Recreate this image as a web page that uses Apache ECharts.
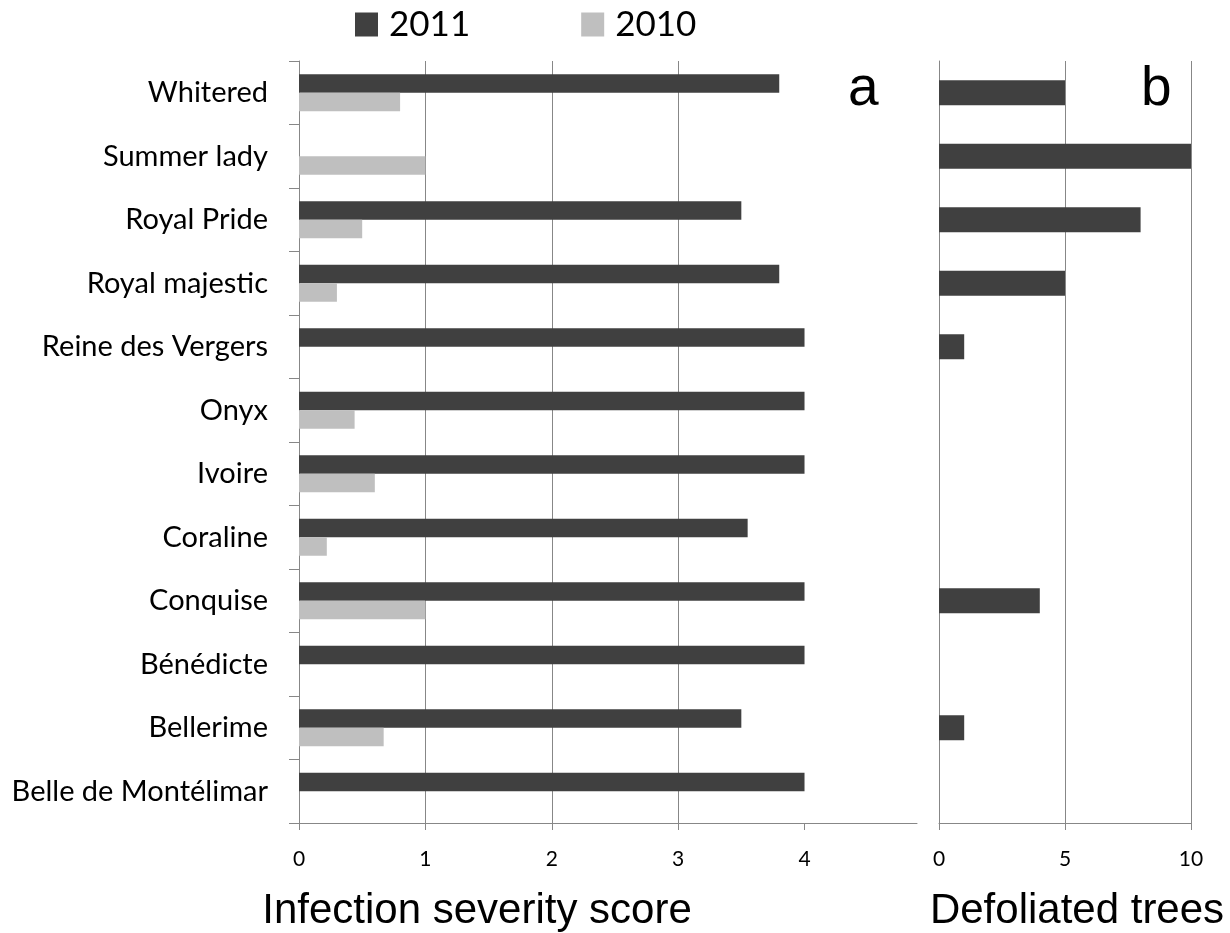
<!DOCTYPE html>
<html>
<head>
<meta charset="utf-8">
<script src="https://cdn.jsdelivr.net/npm/echarts@6/dist/echarts.min.js"></script>
<style>
html,body{margin:0;padding:0;background:#fff;}
#chart{width:1230px;height:933px;}
</style>
</head>
<body>
<div id="chart"></div>
<script>
const categories = ['Whitered','Summer lady','Royal Pride','Royal majestic','Reine des Vergers','Onyx','Ivoire','Coraline','Conquise','Bénédicte','Bellerime','Belle de Montélimar'];
const severity2011 = [3.8, null, 3.5, 3.8, 4, 4, 4, 3.55, 4, 4, 3.5, 4];
const severity2010 = [0.8, 1.0, 0.5, 0.3, null, 0.44, 0.6, 0.22, 1.0, null, 0.67, null];
const defoliated2011 = [5, 10, 8, 5, 1, null, null, null, 4, null, 1, null];
const severityTicks = [0, 1, 2, 3, 4];
const defoliatedTicks = [0, 5, 10];

const DARK = '#404040', LIGHT = '#bfbfbf', AXIS = '#878787';
const labelFont = 'Lato';

const chart = echarts.init(document.getElementById('chart'), null, {renderer: 'canvas'});
chart.setOption({
  animation: false,
  backgroundColor: '#fff',
  legend: {
    data: ['2011', '2010'],
    left: 355, top: 7, padding: 0,
    itemWidth: 23, itemHeight: 24, itemGap: 111,
    icon: 'rect',
    textStyle: {fontFamily: labelFont, fontSize: 35, color: '#000', padding: [0,0,0,6]}
  },
  grid: [
    {left: 299, top: 61, width: 618, height: 762},
    {left: 939, top: 61, width: 252, height: 762}
  ],
  xAxis: [
    {
      gridIndex: 0, type: 'value', min: 0, max: 4.89, interval: 1,
      axisLine: {show: true, lineStyle: {color: AXIS, width: 1}},
      axisTick: {show: true, length: 7, customValues: severityTicks, lineStyle: {color: AXIS}},
      axisLabel: {customValues: severityTicks, fontFamily: labelFont, fontSize: 21, color: '#000', margin: 26},
      splitLine: {show: true, showMinLine: false, showMaxLine: false, lineStyle: {color: AXIS, width: 1}}
    },
    {
      gridIndex: 1, type: 'value', min: 0, max: 10, interval: 5,
      axisLine: {show: true, lineStyle: {color: AXIS, width: 1}},
      axisTick: {show: true, length: 7, lineStyle: {color: AXIS}},
      axisLabel: {customValues: defoliatedTicks, fontFamily: labelFont, fontSize: 21, color: '#000', margin: 26},
      splitLine: {show: true, showMinLine: false, lineStyle: {color: AXIS, width: 1}}
    }
  ],
  yAxis: [
    {
      gridIndex: 0, type: 'category', data: categories, inverse: true,
      axisLine: {show: true, lineStyle: {color: AXIS, width: 1}},
      axisTick: {show: true, length: 10, lineStyle: {color: AXIS}},
      axisLabel: {fontFamily: labelFont, fontSize: 29, color: '#000', margin: 31}
    },
    {
      gridIndex: 1, type: 'category', data: categories, inverse: true,
      axisLine: {show: true, lineStyle: {color: AXIS, width: 1}},
      axisTick: {show: false},
      axisLabel: {show: false}
    }
  ],
  series: [
    {name: '2011', type: 'bar', xAxisIndex: 0, yAxisIndex: 0, data: severity2011,
     barWidth: 18.5, barGap: '0%', itemStyle: {color: DARK}},
    {name: '2010', type: 'bar', xAxisIndex: 0, yAxisIndex: 0, data: severity2010,
     barWidth: 18.5, barGap: '0%', itemStyle: {color: LIGHT}},
    {name: '2011', type: 'bar', xAxisIndex: 1, yAxisIndex: 1, data: defoliated2011,
     barWidth: 25, itemStyle: {color: DARK}}
  ],
  graphic: [
    {type: 'text', left: 848, top: 62, style: {text: 'a', font: '55px "Liberation Sans", Arial, sans-serif', fill: '#000'}},
    {type: 'text', left: 1141, top: 62, style: {text: 'b', font: '55px "Liberation Sans", Arial, sans-serif', fill: '#000'}},
    {type: 'text', x: 477, y: 911, style: {text: 'Infection severity score', font: '42px "Liberation Sans", Arial, sans-serif', fill: '#000', align: 'center', verticalAlign: 'middle'}},
    {type: 'text', x: 1077, y: 911, style: {text: 'Defoliated trees', font: '42px "Liberation Sans", Arial, sans-serif', fill: '#000', align: 'center', verticalAlign: 'middle'}}
  ]
});
</script>
</body>
</html>
